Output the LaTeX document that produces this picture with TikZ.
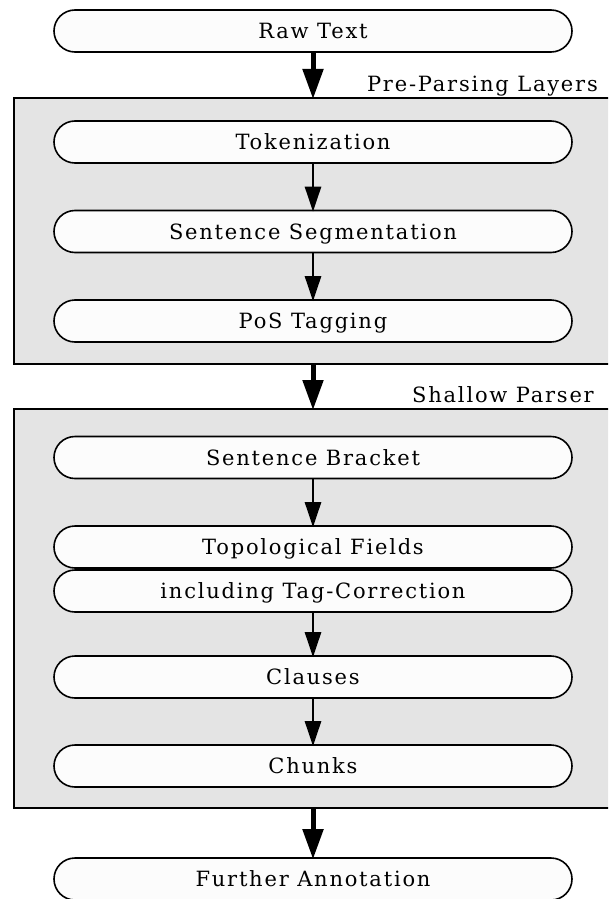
\documentclass[tikz,border=0pt]{standalone}
\usepackage{fontspec}
\setmainfont{DejaVu Serif}[LetterSpace=8.5]
\usetikzlibrary{arrows.meta}
\definecolor{layergray}{HTML}{E4E4E4}
\definecolor{stagefill}{HTML}{FCFCFC}
\tikzset{
  x=1pt, y=1pt,
  every node/.style={font=\fontsize{21}{25}\selectfont},
  stagebox/.style={draw, line width=1.6pt, fill=stagefill, rounded corners=21pt,
    minimum width=518pt, minimum height=42pt, inner sep=0pt,
    text height=15.2pt, text depth=0pt},
  layerbox/.style={draw, line width=1.6pt, fill=layergray, anchor=north west,
    minimum width=620pt, inner sep=0pt},
  layerlabel/.style={anchor=base east, inner sep=0pt},
  thinflow/.style={line width=2.6pt, -{Triangle[length=25pt,width=16pt]}, shorten >=-2pt},
  thickflow/.style={line width=5pt, -{Triangle[length=30pt,width=20pt]}, shorten >=-2pt},
}
\begin{document}
\begin{tikzpicture}
\clip (0,0) rectangle (608,-899);

% processing layers
\node[layerbox, minimum height=266pt] (pre) at (13,-97) {};
\node[layerlabel] (prelabel) at (598,-92) {Pre-Parsing Layers};
\node[layerbox, minimum height=399pt] (shallow) at (13,-408) {};
\node[layerlabel] (shallowlabel) at (594,-402) {Shallow Parser};

% stages
\node[stagebox] (raw) at (313,-31) {Raw Text};
\node[stagebox] (tok) at (313,-142) {Tokenization};
\node[stagebox] (seg) at (313,-231.5) {Sentence Segmentation};
\node[stagebox] (pos) at (313,-321) {PoS Tagging};
\node[stagebox] (brk) at (313,-457.5) {Sentence Bracket};
\node[stagebox] (topo) at (313,-547) {Topological Fields};
\node[stagebox] (tagc) at (313,-591) {including Tag-Correction};
\node[stagebox] (cls) at (313,-677) {Clauses};
\node[stagebox] (chk) at (313,-766) {Chunks};
\node[stagebox] (fur) at (313,-879) {Further Annotation};

% flow between layers
\draw[thickflow] (raw.south) -- (raw.south |- pre.north);
\draw[thickflow] (pre.south -| raw.south) -- (raw.south |- shallow.north);
\draw[thickflow] (shallow.south -| raw.south) -- (fur.north);

% flow within layers
\draw[thinflow] (tok) -- (seg);
\draw[thinflow] (seg) -- (pos);
\draw[thinflow] (brk) -- (topo);
\draw[thinflow] (tagc) -- (cls);
\draw[thinflow] (cls) -- (chk);
\end{tikzpicture}
\end{document}
